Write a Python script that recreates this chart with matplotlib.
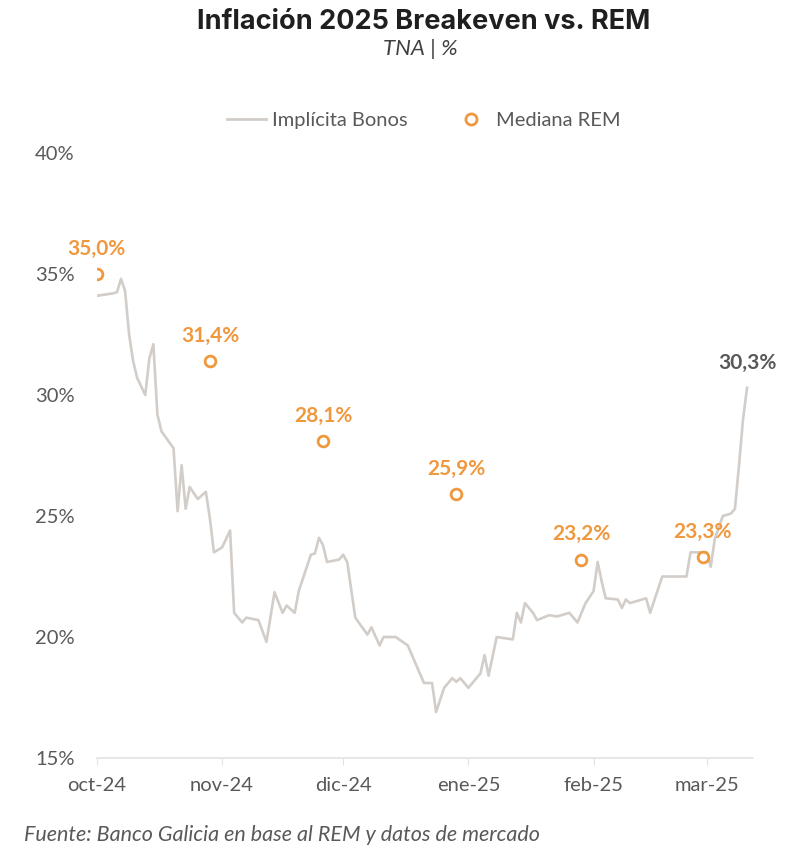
import matplotlib
matplotlib.use('Agg')
import matplotlib.pyplot as plt
from matplotlib.lines import Line2D
import pandas as pd

# Implícita Bonos (breakeven)
bonos_fechas = [
    '2024-10-01', '2024-10-03', '2024-10-05', '2024-10-06', '2024-10-07', '2024-10-08',
    '2024-10-09', '2024-10-10', '2024-10-11', '2024-10-13', '2024-10-14', '2024-10-15',
    '2024-10-16', '2024-10-17', '2024-10-20', '2024-10-21', '2024-10-22', '2024-10-23',
    '2024-10-24', '2024-10-26', '2024-10-28', '2024-10-29', '2024-10-30', '2024-11-01',
    '2024-11-03', '2024-11-04', '2024-11-06', '2024-11-07', '2024-11-10', '2024-11-12',
    '2024-11-14', '2024-11-16', '2024-11-17', '2024-11-19', '2024-11-20', '2024-11-23',
    '2024-11-24', '2024-11-25', '2024-11-26', '2024-11-27', '2024-11-30', '2024-12-01',
    '2024-12-02', '2024-12-04', '2024-12-07', '2024-12-08', '2024-12-10', '2024-12-11',
    '2024-12-14', '2024-12-17', '2024-12-21', '2024-12-23', '2024-12-24', '2024-12-26',
    '2024-12-28', '2024-12-29', '2024-12-30', '2025-01-01', '2025-01-04', '2025-01-05',
    '2025-01-06', '2025-01-08', '2025-01-12', '2025-01-13', '2025-01-14', '2025-01-15',
    '2025-01-17', '2025-01-18', '2025-01-21', '2025-01-23', '2025-01-26', '2025-01-28',
    '2025-01-30', '2025-02-01', '2025-02-02', '2025-02-03', '2025-02-04', '2025-02-07',
    '2025-02-08', '2025-02-09', '2025-02-10', '2025-02-14', '2025-02-15', '2025-02-18',
    '2025-02-24', '2025-02-25', '2025-03-01', '2025-03-02', '2025-03-03', '2025-03-05',
    '2025-03-07', '2025-03-08', '2025-03-09', '2025-03-10', '2025-03-11',
]
bonos_valores = [
    34.1, 34.15, 34.2, 34.25, 34.8, 34.3,
    32.5, 31.4, 30.7, 30.0, 31.5, 32.1,
    29.2, 28.5, 27.8, 25.2, 27.1, 25.3,
    26.2, 25.7, 26.0, 24.9, 23.5, 23.7,
    24.4, 21.0, 20.6, 20.8, 20.7, 19.8,
    21.85, 21.0, 21.3, 21.0, 21.9, 23.4,
    23.45, 24.1, 23.8, 23.1, 23.2, 23.4,
    23.1, 20.8, 20.1, 20.4, 19.65, 20.0,
    20.0, 19.65, 18.1, 18.1, 16.9, 17.9,
    18.3, 18.15, 18.3, 17.9, 18.5, 19.25,
    18.4, 20.0, 19.9, 21.0, 20.6, 21.4,
    21.0, 20.7, 20.9, 20.85, 21.0, 20.6,
    21.4, 21.9, 23.1, 22.3, 21.6, 21.55,
    21.2, 21.55, 21.4, 21.6, 21.0, 22.5,
    22.5, 23.5, 23.5, 22.9, 24.05, 25.0,
    25.1, 25.3, 27.1, 29.0, 30.3,
]

# Mediana REM
rem_fechas = ['2024-10-01', '2024-10-29', '2024-11-26', '2024-12-29', '2025-01-29', '2025-02-28']
rem_valores = [35.0, 31.4, 28.1, 25.9, 23.2, 23.3]

meses = ['2024-10-01', '2024-11-01', '2024-12-01', '2025-01-01', '2025-02-01', '2025-03-01']
meses_labels = ['oct-24', 'nov-24', 'dic-24', 'ene-25', 'feb-25', 'mar-25']
y_ticks = [15, 20, 25, 30, 35, 40]

naranja = '#F0983E'
gris_linea = '#D2CDC8'
gris_texto = '#595959'

plt.rcParams['font.family'] = ['Lato', 'DejaVu Sans']

bx = pd.to_datetime(bonos_fechas)
rx = pd.to_datetime(rem_fechas)

fig = plt.figure(figsize=(8, 8.65), dpi=100)
ax = fig.add_axes([0.121, 0.1237, 0.82, 0.6994])

ax.plot(bx, bonos_valores, color=gris_linea, lw=1.9, zorder=2)
ax.scatter(rx, rem_valores, s=60, facecolor='white', edgecolor=naranja,
           linewidth=2.0, zorder=3)

for x, v in zip(rx, rem_valores):
    ax.annotate(f'{v:.1f}%'.replace('.', ','), (x, v), xytext=(0, 11),
                textcoords='offset points', ha='center', va='bottom',
                color=naranja, fontsize=15, fontweight='bold')

ax.annotate(f'{bonos_valores[-1]:.1f}%'.replace('.', ','), (bx[-1], bonos_valores[-1]),
            xytext=(0, 11), textcoords='offset points', ha='center', va='bottom',
            color=gris_texto, fontsize=15, fontweight='bold')

ax.set_ylim(15, 40)
ax.set_xlim(pd.Timestamp('2024-10-01'), pd.Timestamp('2025-03-12 10:00'))
ax.set_yticks(y_ticks)
ax.set_yticklabels([f'{t}%' for t in y_ticks])
ax.set_xticks(pd.to_datetime(meses))
ax.set_xticklabels(meses_labels)

for s in ['top', 'right', 'left']:
    ax.spines[s].set_visible(False)
ax.spines['bottom'].set_color('#E3E3E3')
ax.spines['bottom'].set_linewidth(1.2)
ax.tick_params(axis='y', length=0, pad=16, labelsize=14.5, labelcolor=gris_texto)
ax.tick_params(axis='x', length=5, color='#E3E3E3', pad=9, labelsize=14.5,
               labelcolor=gris_texto)

fig.text(0.53, 0.975, 'Inflación 2025 Breakeven vs. REM', ha='center', va='center',
         fontsize=19.5, fontweight='bold', color='#1F1F1F', family=['Inter', 'DejaVu Sans'])
fig.text(0.525, 0.943, 'TNA | %', ha='center', va='center', fontsize=16,
         style='italic', color='#404040')

handles = [
    Line2D([0], [0], color=gris_linea, lw=2.0),
    Line2D([0], [0], marker='o', ls='none', markersize=8, markerfacecolor='white',
           markeredgecolor=naranja, markeredgewidth=2.0),
]
fig.legend(handles, ['Implícita Bonos', 'Mediana REM'], loc='center',
           bbox_to_anchor=(0.53, 0.861), ncol=2, frameon=False, fontsize=14.5,
           labelcolor=gris_texto, handlelength=1.9, handletextpad=0.3,
           columnspacing=2.2)

fig.text(0.03, 0.035, 'Fuente: Banco Galicia en base al REM y datos de mercado',
         ha='left', va='center', fontsize=15.5, style='italic', color=gris_texto)

fig.savefig('out.png', dpi=100)
plt.close(fig)
